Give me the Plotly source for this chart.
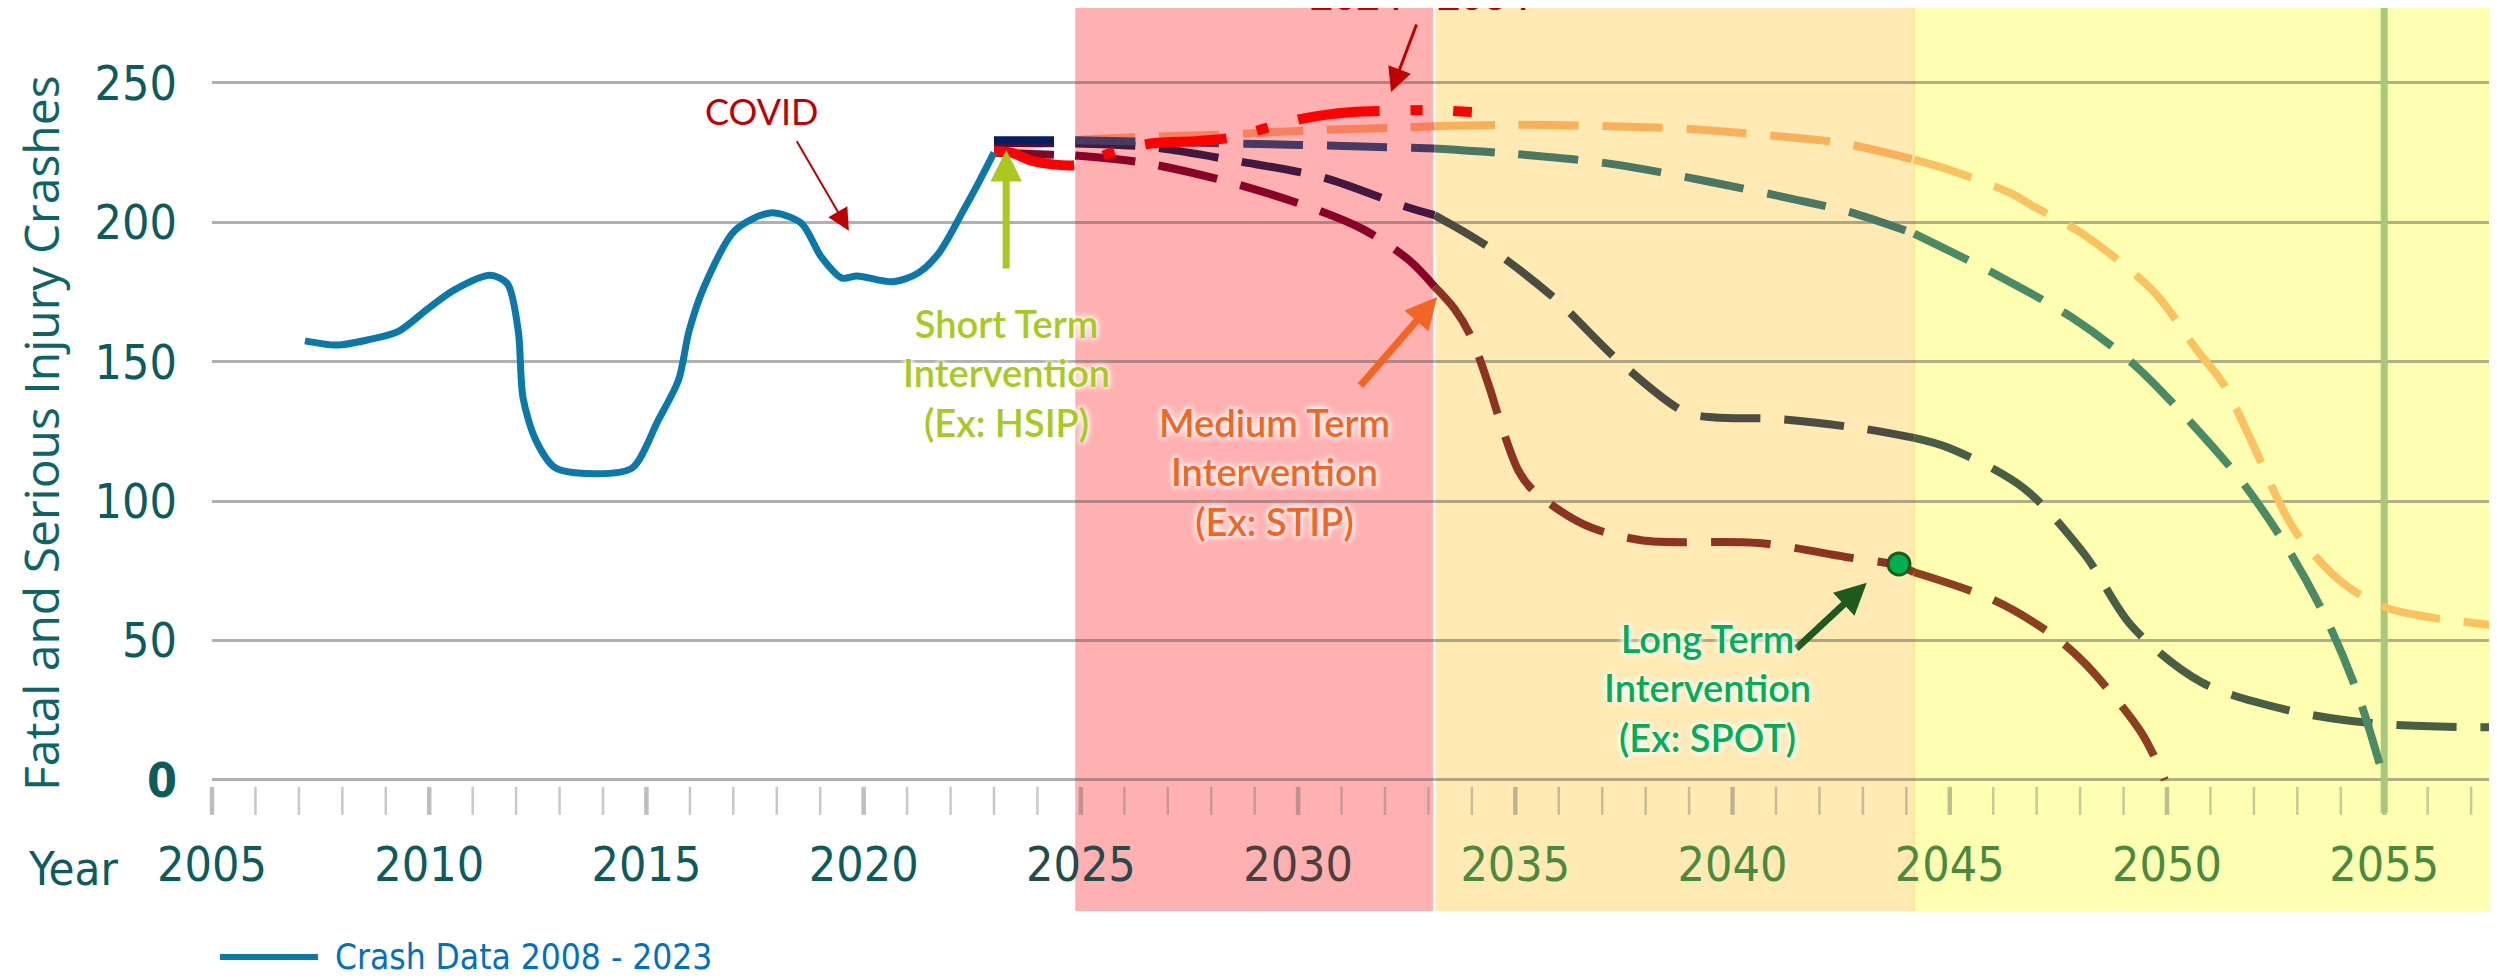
import plotly.graph_objects as go

# ---------------- data ----------------
crash_years = [2007.14, 2007.87, 2008.57, 2009.28, 2009.99, 2010.57, 2011.4, 2011.8, 2012.05, 2012.16,
               2012.45, 2012.9, 2013.86, 2014.68, 2015.27, 2015.74, 2015.98, 2016.33, 2017.03, 2017.85,
               2018.56, 2019.02, 2019.5, 2019.85, 2020.68, 2021.25, 2021.73, 2022.3, 2022.67, 2023.0]
crash_values = [157.5, 156.0, 157.8, 160.8, 169.3, 175.7, 181.0, 178.0, 161.0, 137.0,
                122.0, 112.0, 109.8, 112.0, 129.0, 143.5, 161.0, 177.0, 197.0, 203.4,
                199.8, 187.7, 180.0, 180.8, 178.7, 181.8, 189.0, 204.4, 215.0, 225.0]

proj_a_years = [2023.0, 2024.87, 2027.0, 2030.0, 2033.14, 2035.0, 2037.2, 2039.5, 2041.5, 2042.7,
                2044.18, 2046.1, 2047.8, 2049.2, 2050.5, 2051.75, 2052.8, 2053.7, 2054.4, 2055.0]
proj_a_values = [229.5, 229.5, 228.8, 227.8, 226.5, 224.5, 221.0, 214.5, 208.0, 203.7,
                 196.0, 181.0, 166.0, 149.6, 129.0, 106.5, 82.5, 56.7, 30.5, 0.0]

proj_b_years = [2023.0, 2024.87, 2026.6, 2028.6, 2030.6, 2032.5, 2033.14, 2034.3, 2035.9, 2037.4,
                2038.9, 2039.6, 2041.0, 2043.0, 2044.18, 2045.0, 2046.7, 2048.1, 2049.2, 2050.8,
                2052.8, 2054.7, 2056.8, 2057.8]
proj_b_values = [228.5, 228.3, 227.0, 222.0, 216.0, 205.5, 202.6, 192.0, 172.8, 150.0,
                 132.0, 130.0, 129.5, 126.0, 122.7, 119.0, 104.7, 81.0, 55.0, 35.0,
                 25.0, 20.4, 19.0, 19.0]

proj_c_years = [2023.0, 2024.87, 2026.4, 2028.4, 2030.35, 2031.5, 2032.55, 2033.14, 2033.6, 2033.95,
                2034.4, 2034.6, 2035.07, 2035.4, 2036.6, 2037.9, 2040.6, 2042.6, 2043.8, 2044.18,
                2046.0, 2047.3, 2048.1, 2049.4, 2049.95]
proj_c_values = [225.0, 224.0, 221.5, 214.5, 205.0, 197.5, 186.5, 177.0, 169.0, 160.0,
                 141.0, 131.0, 111.0, 104.0, 91.5, 86.0, 85.0, 80.0, 77.0, 74.5,
                 64.6, 52.7, 42.0, 17.2, 0.0]

proj_d_years = [2023.0, 2024.0, 2024.87, 2026.2, 2028.3, 2030.3, 2032.4, 2033.14, 2035.0, 2037.0,
                2039.0, 2041.0, 2042.5, 2044.18, 2045.0, 2046.4, 2046.9, 2048.1, 2049.7, 2050.7,
                2051.3, 2051.9, 2052.7, 2053.1, 2054.05, 2055.0, 2056.0, 2057.8]
proj_d_values = [226.0, 228.0, 229.5, 230.5, 231.5, 233.0, 234.0, 234.5, 235.0, 234.6,
                 233.5, 231.0, 228.5, 222.5, 218.8, 210.5, 206.0, 195.5, 175.0, 154.0,
                 142.0, 123.0, 96.0, 86.0, 70.6, 62.0, 58.5, 55.0]

short_proj_years = [2023.0, 2023.4, 2023.9, 2024.9, 2025.7, 2026.6, 2027.7, 2028.5, 2029.3, 2030.2,
                    2031.2, 2032.1, 2033.0, 2034.0]
short_proj_values = [225.5, 225.0, 222.0, 220.6, 225.0, 228.3, 229.2, 230.5, 234.0, 237.5,
                     239.5, 240.0, 240.3, 239.6]

region_starts = [2024.87, 2033.14, 2044.18]
region_ends = [2033.14, 2044.18, 2057.78]
region_colors = ["#ffb0b0", "#ffeab4", "#ffffb2"]

segment_starts = [2022.9, 2024.87, 2033.14, 2044.18]
segment_ends = [2024.87, 2033.14, 2044.18, 2058.0]
colors_a = ["#002060", "#463c63", "#4a7864", "#4a8a64"]
colors_b = ["#5a0a38", "#43183f", "#4a4d40", "#4a5e45"]
colors_c = ["#7a0a2a", "#8a0026", "#8c3322", "#8c4020"]
colors_d = ["#fdbf9f", "#f8805e", "#f9b05a", "#fbc262"]

target_year = 2055
spot_year, spot_value = 2043.83, 77.5

tick_years = list(range(2005, 2058))
label_years = list(range(2005, 2060, 5))
label_colors = ["#0b5c5c", "#0b5c5c", "#0b5c5c", "#0b5c5c", "#244a4a", "#4a4040",
                "#4a8a3e", "#4a8a3e", "#4a8a3e", "#4a8a3e", "#4a8a3e"]
y_ticks = [0, 50, 100, 150, 200, 250]

X_RANGE = [2005, 2057.78]
Y_RANGE = [-47, 276.9]

NARROW = "DejaVu Sans Condensed, sans-serif"
SANS = "Lato, Open Sans, sans-serif"
GLOW = "0px 0px 4px white, 0px 0px 6px white, 0px 0px 8px white"

fig = go.Figure()

# shaded regions
for s, e, c in zip(region_starts, region_ends, region_colors):
    fig.add_shape(type="rect", xref="x", yref="paper", x0=s, x1=e, y0=0, y1=1,
                  fillcolor=c, line_width=0, layer="below")
fig.add_shape(type="line", xref="x", yref="paper", x0=region_starts[1], x1=region_starts[1],
              y0=0, y1=1, line=dict(color="white", width=3), layer="below")
fig.add_shape(type="line", xref="x", yref="paper", x0=region_starts[2], x1=region_starts[2],
              y0=0, y1=1, line=dict(color="#ffe98a", width=2), layer="below")

# x-axis tick marks (every year)
minor_ticks = [y for y in tick_years if y % 5]
major_ticks = [y for y in tick_years if y % 5 == 0]
fig.add_trace(go.Scatter(
    x=minor_ticks, y=[-7.5] * len(minor_ticks),
    mode="markers", hoverinfo="skip", showlegend=False, cliponaxis=False,
    marker=dict(symbol="line-ns", size=20, line=dict(color="rgba(110,110,110,0.38)", width=2.5))))
fig.add_trace(go.Scatter(
    x=major_ticks, y=[-7.5] * len(major_ticks),
    mode="markers", hoverinfo="skip", showlegend=False, cliponaxis=False,
    marker=dict(symbol="line-ns", size=20, line=dict(color="rgba(110,110,110,0.45)", width=4.5))))

# x tick labels
fig.add_trace(go.Scatter(
    x=label_years, y=[-31.8] * len(label_years), mode="text", cliponaxis=False,
    text=[str(y) for y in label_years], hoverinfo="skip", showlegend=False,
    textfont=dict(family=NARROW, size=48, color=label_colors)))

# target year vertical line
fig.add_trace(go.Scatter(x=[target_year, target_year], y=[-11.8, Y_RANGE[1]], mode="lines",
                         line=dict(color="#a8c87c", width=7), hoverinfo="skip", showlegend=False))


def add_segmented(years, values, colors, dash, width):
    for s, e, c in zip(segment_starts, segment_ends, colors):
        xs = [x for x in years if s <= x <= e]
        ys = [v for x, v in zip(years, values) if s <= x <= e]
        if len(xs) < 2:
            continue
        fig.add_trace(go.Scatter(x=xs, y=ys, mode="lines", showlegend=False, hoverinfo="skip",
                                 line=dict(color=c, width=width, dash=dash, shape="spline", smoothing=0.9)))


DASH = "60px,24px"
add_segmented(proj_d_years, proj_d_values, colors_d, DASH, 8)
add_segmented(proj_c_years, proj_c_values, colors_c, DASH, 8)
add_segmented(proj_b_years, proj_b_values, colors_b, DASH, 8)
add_segmented(proj_a_years, proj_a_values, colors_a, DASH, 8)

# short-term projection (2024 - 2034)
fig.add_trace(go.Scatter(x=short_proj_years, y=short_proj_values, mode="lines", showlegend=False,
                         hoverinfo="skip",
                         line=dict(color="#ff0000", width=10, dash="82px,31px,12px,31px",
                                   shape="spline", smoothing=0.9)))

# crash data
fig.add_trace(go.Scatter(x=crash_years, y=crash_values, mode="lines", name="Crash Data 2008 - 2023",
                         line=dict(color="#0a78a8", width=7, shape="spline", smoothing=0.8)))

# SPOT marker
fig.add_trace(go.Scatter(x=[spot_year], y=[spot_value], mode="markers", showlegend=False,
                         marker=dict(size=22, color="#00b050", line=dict(color="#1e5a1e", width=3))))

annotations = []
# arrows
arrows = [
    dict(x=2019.66, y=197, ax=-53, ay=-91, color="#c00000", w=2, size=2.2),
    dict(x=2032.14, y=246.8, ax=26, ay=-69, color="#c00000", w=3, size=1.6),
    dict(x=2023.28, y=226, ax=0, ay=120, color="#a9c91e", w=7, size=0.9),
    dict(x=2033.2, y=173.2, ax=-78, ay=90, color="#f26522", w=7, size=0.9),
    dict(x=2043.09, y=70.7, ax=-72, ay=67, color="#1e5a1e", w=7, size=0.9),
]
for a in arrows:
    annotations.append(dict(x=a["x"], y=a["y"], xref="x", yref="y", ax=a["ax"], ay=a["ay"],
                            text="", showarrow=True, arrowhead=2, arrowsize=a["size"],
                            arrowwidth=a["w"], arrowcolor=a["color"]))

# labels
labels = [
    dict(x=2017.64, y=239.8, text="COVID", color="#c00000", size=36, weight=400),
    dict(x=2023.28, y=146.0, text="Short Term<br>Intervention<br>(Ex: HSIP)", color="#a9c91e", size=38, weight=600),
    dict(x=2029.45, y=110.8, text="Medium Term<br>Intervention<br>(Ex: STIP)", color="#f26522", size=38, weight=600),
    dict(x=2039.42, y=33.0, text="Long Term<br>Intervention<br>(Ex: SPOT)", color="#00b050", size=38, weight=600),
]
for l in labels:
    annotations.append(dict(x=l["x"], y=l["y"], xref="x", yref="y", text=l["text"], showarrow=False,
                            align="center", xanchor="center", yanchor="middle",
                            font=dict(family=SANS, size=l["size"], color=l["color"], weight=l["weight"],
                                      shadow=GLOW)))

annotations.append(dict(x=2032.8, y=1, xref="x", yref="paper", yanchor="bottom", xanchor="center",
                        yshift=-13, text="2024 - 2034", showarrow=False,
                        font=dict(family=SANS, size=40, color="#c00000", weight=700)))

# axis titles / legend
annotations.append(dict(x=-0.0750, y=0.5293, xref="paper", yref="paper", xanchor="center", yanchor="middle",
                        text="Fatal and Serious Injury Crashes", textangle=-90, showarrow=False,
                        font=dict(family="Open Sans, sans-serif", size=48, color="#0e6464")))
annotations.append(dict(x=-0.0606, y=0.0476, xref="paper", yref="paper", xanchor="center", yanchor="middle",
                        text="Year", showarrow=False,
                        font=dict(family=NARROW, size=47, color="#0b5c5c")))
annotations.append(dict(x=0.0528, y=-0.0509, xref="paper", yref="paper", xanchor="left", yanchor="middle",
                        text="Crash Data 2008 - 2023", showarrow=False,
                        font=dict(family=NARROW, size=35, color="#0070c0")))
fig.add_shape(type="line", xref="paper", yref="paper", x0=0.0035, x1=0.0462, y0=-0.0509, y1=-0.0509,
              line=dict(color="#0a78a8", width=6))

fig.update_layout(
    width=2497, height=980,
    margin=dict(l=204, r=0, t=0, b=77),
    paper_bgcolor="white", plot_bgcolor="white",
    showlegend=False,
    annotations=annotations,
    xaxis=dict(range=X_RANGE, showgrid=False, zeroline=False, showticklabels=False, showline=False,
               ticks=""),
    yaxis=dict(range=Y_RANGE, tickvals=y_ticks,
               ticktext=["<b>0</b>"] + [str(v) for v in y_ticks[1:]],
               showgrid=True, gridcolor="rgba(80,80,80,0.45)", gridwidth=3, zeroline=False,
               showline=False, ticks="", ticklabelstandoff=34,
               tickfont=dict(family=NARROW, size=48, color="#0b5c5c")),
)

fig.write_html("out.html")
